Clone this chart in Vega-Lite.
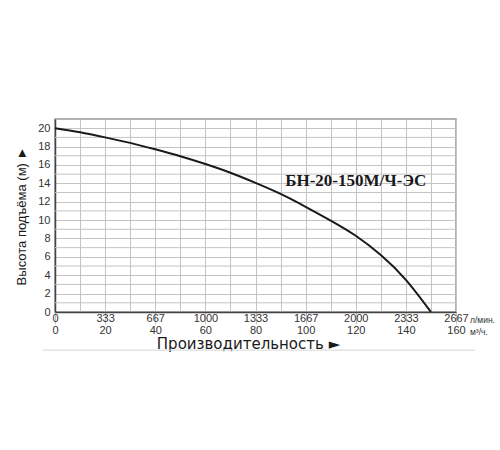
{
  "$schema": "https://vega.github.io/schema/vega-lite/v6.json",
  "width": 401,
  "height": 193,
  "autosize": "none",
  "padding": {"left": 55, "top": 119, "right": 44, "bottom": 138},
  "background": "white",
  "datasets": {
    "curve": [
      {"q": 0, "h": 20},
      {"q": 10, "h": 19.55},
      {"q": 20, "h": 19.0},
      {"q": 30, "h": 18.4},
      {"q": 40, "h": 17.7},
      {"q": 50, "h": 16.95},
      {"q": 60, "h": 16.1},
      {"q": 70, "h": 15.15},
      {"q": 80, "h": 14.05},
      {"q": 90, "h": 12.85},
      {"q": 100, "h": 11.45},
      {"q": 110, "h": 9.95},
      {"q": 120, "h": 8.3},
      {"q": 130, "h": 6.2},
      {"q": 140, "h": 3.5},
      {"q": 150, "h": 0}
    ],
    "minor": [
      {"q": 0, "q2": 160, "h": 1}, {"q": 0, "q2": 160, "h": 3}, {"q": 0, "q2": 160, "h": 5},
      {"q": 0, "q2": 160, "h": 7}, {"q": 0, "q2": 160, "h": 9}, {"q": 0, "q2": 160, "h": 11},
      {"q": 0, "q2": 160, "h": 13}, {"q": 0, "q2": 160, "h": 15}, {"q": 0, "q2": 160, "h": 17},
      {"q": 0, "q2": 160, "h": 19}
    ],
    "label": [{"q": 120, "h": 13.7, "name": "БН-20-150М/Ч-ЭС"}],
    "units": [{"q": 160, "h": 0, "u": "л/мин.|м³/ч."}],
    "sep": [{"q": -5, "q2": 167.5, "h": -4.15}]
  },
  "encoding": {
    "x": {
      "field": "q",
      "type": "quantitative",
      "title": "Производительность ►",
      "scale": {"domain": [0, 160], "nice": false},
      "axis": {
        "values": [0, 10, 20, 30, 40, 50, 60, 70, 80, 90, 100, 110, 120, 130, 140, 150, 160],
        "labelExpr": "datum.value % 20 == 0 ? [format(datum.value * 50 / 3, 'd'), datum.label] : ''",
        "labelFont": "Liberation Sans",
        "labelFontSize": 11,
        "labelColor": "#333",
        "labelLineHeight": 12,
        "labelPadding": -12,
        "labelFlush": false,
        "labelOverlap": false,
        "tickSize": 12,
        "tickColor": {"condition": {"test": "datum.value % 20 == 0", "value": "#c4c4c4"}, "value": "transparent"},
        "grid": true,
        "gridColor": "#c4c4c4",
        "gridOpacity": 1,
        "domainColor": "#444",
        "domainWidth": 1.5,
        "titleFont": "DejaVu Sans",
        "titleFontSize": 15,
        "titleFontWeight": "normal",
        "titleColor": "#1a1a1a",
        "titlePadding": 1,
        "titleX": 193
      }
    },
    "y": {
      "field": "h",
      "type": "quantitative",
      "title": "Высота подъёма (м) ►",
      "scale": {"domain": [0, 21], "nice": false},
      "axis": {
        "values": [0, 2, 4, 6, 8, 10, 12, 14, 16, 18, 20],
        "labelFont": "Liberation Sans",
        "labelFontSize": 11,
        "labelColor": "#333",
        "labelPadding": 5,
        "labelOverlap": false,
        "labelFlush": false,
        "ticks": false,
        "grid": true,
        "gridColor": "#c4c4c4",
        "gridOpacity": 1,
        "domainColor": "#444",
        "domainWidth": 1.5,
        "titleFont": "Liberation Sans",
        "titleFontSize": 13,
        "titleFontWeight": "normal",
        "titleColor": "#1a1a1a",
        "titlePadding": 9
      }
    }
  },
  "layer": [
    {
      "data": {"name": "minor"},
      "mark": {"type": "rule", "color": "#c4c4c4", "strokeWidth": 1},
      "encoding": {"x2": {"field": "q2"}}
    },
    {
      "data": {"name": "curve"},
      "mark": {"type": "line", "interpolate": "natural", "color": "#1a1a1a", "strokeWidth": 2}
    },
    {
      "data": {"name": "label"},
      "mark": {"type": "text", "font": "Liberation Serif", "fontWeight": "bold", "fontSize": 17, "align": "center", "baseline": "alphabetic", "color": "#1a1a1a"},
      "encoding": {"text": {"field": "name"}}
    },
    {
      "data": {"name": "units"},
      "mark": {"type": "text", "font": "Liberation Sans", "fontSize": 8.5, "align": "left", "baseline": "middle", "dx": 14, "dy": 8, "lineBreak": "|", "lineHeight": 12, "color": "#333"},
      "encoding": {"text": {"field": "u"}}
    },
    {
      "data": {"name": "sep"},
      "mark": {"type": "rule", "color": "#d6d6d6", "strokeWidth": 1},
      "encoding": {"x2": {"field": "q2"}}
    }
  ],
  "config": {
    "view": {"stroke": "#999", "strokeWidth": 1.5}
  }
}
